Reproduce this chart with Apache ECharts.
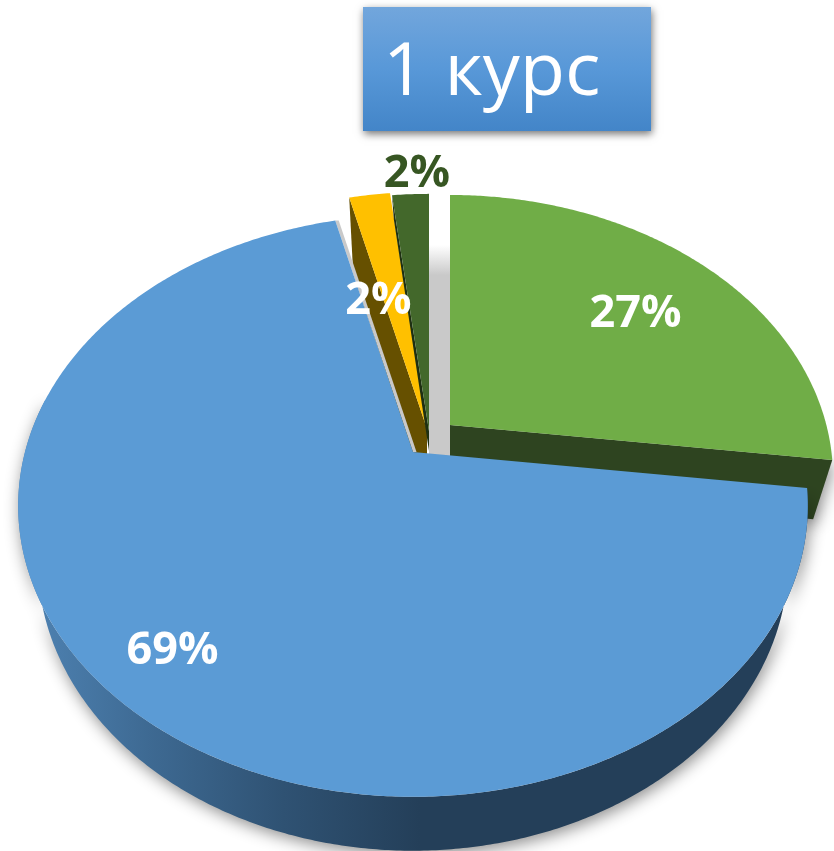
<!DOCTYPE html>
<html>
<head>
<meta charset="utf-8">
<style>html,body{margin:0;padding:0;background:#fff}#c{width:834px;height:851px}</style>
<script src="https://cdn.jsdelivr.net/npm/echarts@6/dist/echarts.min.js"></script>
</head>
<body>
<div id="c"></div>
<script>
var titleText = '1 курс';
var sliceNames = ['Сектор 1', 'Сектор 2', 'Сектор 3', 'Сектор 4'];
var sliceValues = [27.0, 69.2, 2.0, 1.8];

// look of each slice, same order as the values
var apexes = [[450, 425], [413, 452], [427, 429], [429, 431]];
var radiusScales = [0.97, 1, 1, 1];
var wallDepths = [60, 56, 70, 20];
var wallTapers = [0.0183, 0.006, 0.0183, 0.0183];
var faceColors = ['#70AD47', '#5B9BD5', '#FFC000', '#43682B'];
var wallColors = ['#2E4420', null, '#665000', '#1E3012'];
var labelColors = ['#FFFFFF', '#FFFFFF', '#FFFFFF', '#375623'];
var labelCentres = [[635.5, 314], [172.5, 651], [378.5, 301], [417, 174]];
var baseZ = [1, 8, 4, 6];

// projection of the disc: perspective ellipse around the apex
var RX = 388, RY = 281, PERSP = 0.185;
var WALL_SHRINK = 0.95;

function point(i, deg) {
  var t = deg * Math.PI / 180, u = Math.sin(t), v = -Math.cos(t);
  var s = radiusScales[i] / (1 - PERSP * v), a = apexes[i];
  return [a[0] + RX * u * s, a[1] + RY * v * s];
}
function lower(i, p) {
  var a = apexes[i];
  return [a[0] + (p[0] - a[0]) * WALL_SHRINK, p[1] + wallDepths[i] - wallTapers[i] * (p[1] - a[1])];
}
function arc(i, from, to) {
  var pts = [], n = Math.max(2, Math.ceil(Math.abs(to - from) * 2));
  for (var j = 0; j <= n; j++) pts.push(point(i, from + (to - from) * j / n));
  return pts;
}
var total = sliceValues.reduce(function (a, b) { return a + b; }, 0);
var starts = [], acc = 0;
sliceValues.forEach(function (v) { starts.push(acc); acc += v / total * 360; });

function poly(points, style, z2) {
  return { type: 'polygon', shape: { points: points }, style: style, z2: z2, silent: true };
}
var SHADOW = { shadowBlur: 16, shadowColor: 'rgba(0,0,0,0.45)', shadowOffsetX: 2, shadowOffsetY: 4 };

function renderSlice(params, api) {
  var i = params.dataIndex, value = api.value(0);
  var from = starts[i], to = from + value / total * 360, a = apexes[i], z = baseZ[i];
  var kids = [];
  if (i === 1) {
    // curved outer wall, front part only
    var front = arc(i, from, Math.min(to, 281));
    var low = front.map(function (p) { return lower(i, p); }).reverse();
    kids.push(poly(front.concat(low), Object.assign({
      fill: { type: 'linear', x: 30, y: 0, x2: 420, y2: 0, global: true, colorStops: [
        { offset: 0, color: '#4E82B2' }, { offset: 0.3, color: '#3E6A93' },
        { offset: 0.65, color: '#2F5273' }, { offset: 1, color: '#243F59' }] }
    }, SHADOW), z));
    // thin pale cut face beside the wedge
    var e = point(i, to);
    kids.push(poly([a, e, [e[0] + 3.5, e[1]], [a[0] + 3.5, a[1]]], { fill: '#C9C9C9' }, z + 1));
  } else {
    // straight cut wall of the wedge
    var edge = point(i, i === 0 ? to : from);
    var style = { fill: wallColors[i] };
    if (i === 0) Object.assign(style, SHADOW);
    kids.push(poly([a, edge, lower(i, edge), [a[0], a[1] + wallDepths[i]]], style, z));
  }
  if (i === 0) {
    // pale strip seen through the gap between the wedges
    var sx0 = apexes[3][0], sx1 = apexes[0][0];
    kids.push(poly([[sx0, 245], [sx1, 245], [sx1, 460], [sx0, 460]], {
      fill: { type: 'linear', x: 0, y: 245, x2: 0, y2: 460, global: true, colorStops: [
        { offset: 0, color: 'rgba(201,201,201,0)' }, { offset: 0.14, color: '#C9C9C9' }, { offset: 1, color: '#C9C9C9' }] }
    }, z + 0.5));
  }
  kids.push(poly([a].concat(arc(i, from, to)), { fill: faceColors[i] }, z + 2));
  kids.push({
    type: 'text', z2: 30, silent: true,
    style: {
      x: labelCentres[i][0], y: labelCentres[i][1],
      text: Math.round(value / total * 100) + '%',
      fill: labelColors[i], align: 'center', verticalAlign: 'middle',
      font: 'bold 45px "Open Sans"'
    }
  });
  return { type: 'group', children: kids };
}

var chart = echarts.init(document.getElementById('c'), null, { renderer: 'canvas' });
chart.setOption({
  animation: false,
  backgroundColor: '#FFFFFF',
  title: {
    text: titleText, left: 363, top: 7,
    padding: [22, 0, 12, 20],
    backgroundColor: { type: 'linear', x: 0, y: 0, x2: 0, y2: 1, colorStops: [
      { offset: 0, color: '#72A6DC' }, { offset: 0.5, color: '#5898D8' }, { offset: 1, color: '#4385C8' }] },
    shadowBlur: 8, shadowColor: 'rgba(0,0,0,0.55)', shadowOffsetX: 1, shadowOffsetY: 3,
    textStyle: { color: '#FFFFFF', fontFamily: '"Open Sans"', fontWeight: 400, fontSize: 74, lineHeight: 90, width: 268 }
  },
  series: [{
    type: 'custom', coordinateSystem: 'none', silent: true,
    renderItem: renderSlice,
    data: sliceValues.map(function (v, i) { return { name: sliceNames[i], value: [v, i] }; })
  }]
});
</script>
</body>
</html>
